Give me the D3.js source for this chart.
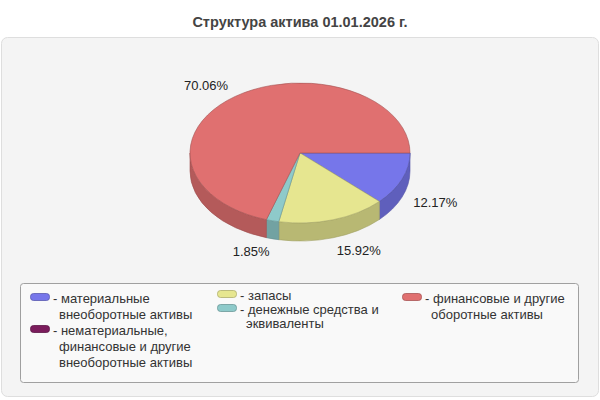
<!DOCTYPE html>
<html>
<head>
<meta charset="utf-8">
<script src="https://cdn.jsdelivr.net/npm/d3@7/dist/d3.min.js"></script>
<style>
  body { margin: 0; background: #fff; }
  svg text { font-family: "Liberation Sans", Arial, sans-serif; }
</style>
</head>
<body>
<div id="chart"></div>
<script>
var title = "Структура актива 01.01.2026 г.";

var categories = [
    "материальные внеоборотные активы",
    "нематериальные, финансовые и другие внеоборотные активы",
    "запасы",
    "денежные средства и эквиваленты",
    "финансовые и другие оборотные активы"
];
var values = [12.17, 0, 15.92, 1.85, 70.06];
var colors = ["#7676ea", "#7b1c5c", "#e6e690", "#8ecaca", "#e07070"];

// legend columns: which items go in each column
var legendColumns = [[0, 1], [2, 3], [4]];

var width = 600, height = 400;

var svg = d3.select("#chart").append("svg")
    .attr("width", width)
    .attr("height", height);

// title
svg.append("text")
    .attr("x", 300)
    .attr("y", 27)
    .attr("text-anchor", "middle")
    .attr("font-size", 14.5)
    .attr("font-weight", "bold")
    .attr("fill", "#444")
    .text(title);

// plot panel
svg.append("rect")
    .attr("x", 1.5).attr("y", 37.5)
    .attr("width", 597).attr("height", 359)
    .attr("rx", 6)
    .attr("fill", "#f4f4f4")
    .attr("stroke", "#dedede");

// pie geometry
var cx = 300, cy = 153, rx = 110, ry = 70, depth = 18;

var pie = d3.pie()
    .sort(null)
    .value(function(d) { return d; })
    .startAngle(Math.PI / 2)
    .endAngle(Math.PI / 2 + 2 * Math.PI);

var arcs = pie(values);

function pt(a, k, dy) {
    return [cx + rx * k * Math.sin(a), cy - ry * k * Math.cos(a) + (dy || 0)];
}

function topPath(d) {
    var p0 = pt(d.startAngle, 1), p1 = pt(d.endAngle, 1);
    var large = (d.endAngle - d.startAngle) > Math.PI ? 1 : 0;
    return "M" + cx + "," + cy + "L" + p0[0] + "," + p0[1] +
        "A" + rx + "," + ry + " 0 " + large + " 1 " + p1[0] + "," + p1[1] + "Z";
}

// outer wall, only front half (angles PI/2 .. 3PI/2 measured d3-style)
function sidePath(d) {
    var s = Math.max(d.startAngle, Math.PI / 2);
    var e = Math.min(d.endAngle, 3 * Math.PI / 2);
    if (e <= s) return null;
    var p0 = pt(s, 1), p1 = pt(e, 1);
    var q1 = pt(e, 1, depth), q0 = pt(s, 1, depth);
    return "M" + p0[0] + "," + p0[1] +
        "A" + rx + "," + ry + " 0 0 1 " + p1[0] + "," + p1[1] +
        "L" + q1[0] + "," + q1[1] +
        "A" + rx + "," + ry + " 0 0 0 " + q0[0] + "," + q0[1] + "Z";
}

var visible = arcs.filter(function(d) { return d.value > 0; });

var pieG = svg.append("g");

pieG.selectAll(".side")
    .data(visible.filter(function(d) { return sidePath(d) !== null; }))
    .enter().append("path")
    .attr("class", "side")
    .attr("d", sidePath)
    .attr("fill", function(d) { return d3.color(colors[d.index]).darker(0.62); })
    .attr("stroke", function(d) { return d3.color(colors[d.index]).darker(1.0); })
    .attr("stroke-width", 0.6);

pieG.selectAll(".top")
    .data(visible)
    .enter().append("path")
    .attr("class", "top")
    .attr("d", topPath)
    .attr("fill", function(d) { return colors[d.index]; })
    .attr("stroke", function(d) { return d3.color(colors[d.index]).darker(0.9); })
    .attr("stroke-width", 0.6);

// percent labels
var fmt = d3.format(".2f");
pieG.selectAll(".label")
    .data(visible)
    .enter().append("text")
    .attr("class", "label")
    .each(function(d) {
        var a = (d.startAngle + d.endAngle) / 2;
        var x = cx + (rx + 12) * Math.sin(a);
        var y = cy - (ry + 13) * Math.cos(a);
        if (-Math.cos(a) > 0) y += depth;
        d3.select(this)
            .attr("x", x)
            .attr("y", y)
            .attr("text-anchor", Math.sin(a) >= 0 ? "start" : "end");
    })
    .attr("dy", "0.35em")
    .attr("font-size", 13)
    .attr("fill", "#222")
    .text(function(d) { return fmt(d.value) + "%"; });

// legend
svg.append("rect")
    .attr("x", 20.5).attr("y", 283.5)
    .attr("width", 558).attr("height", 99)
    .attr("rx", 3)
    .attr("fill", "#f9f9f9")
    .attr("stroke", "#a0a0a0");

var colX = [30, 217, 402];
var colStartY = [303, 300, 303];
var colLineH = [16, 14, 16];
var wrapWidth = 150;

var legend = svg.append("g").attr("font-size", 13).attr("fill", "#333");

legendColumns.forEach(function(items, ci) {
    var y = colStartY[ci];
    items.forEach(function(idx) {
        var x = colX[ci];
        legend.append("rect")
            .attr("x", x + 0.5).attr("y", y - 9.5)
            .attr("width", 19).attr("height", 7)
            .attr("rx", 3)
            .attr("fill", colors[idx])
            .attr("stroke", d3.color(colors[idx]).darker(0.8))
            .attr("stroke-width", 0.8);

        // wrap words; first line carries the "- " prefix
        var words = categories[idx].split(" ");
        var line = [];
        var first = true;
        var t = legend.append("text").attr("x", x + 23).attr("y", y);
        words.forEach(function(w) {
            line.push(w);
            t.text((first ? "- " : "") + line.join(" "));
            var extra = first ? 6 : 0;
            if (t.node().getComputedTextLength() - extra > wrapWidth && line.length > 1) {
                line.pop();
                t.text((first ? "- " : "") + line.join(" "));
                first = false;
                y += colLineH[ci];
                line = [w];
                t = legend.append("text").attr("x", x + 29).attr("y", y).text(w);
            }
        });
        y += colLineH[ci];
    });
});
</script>
</body>
</html>
